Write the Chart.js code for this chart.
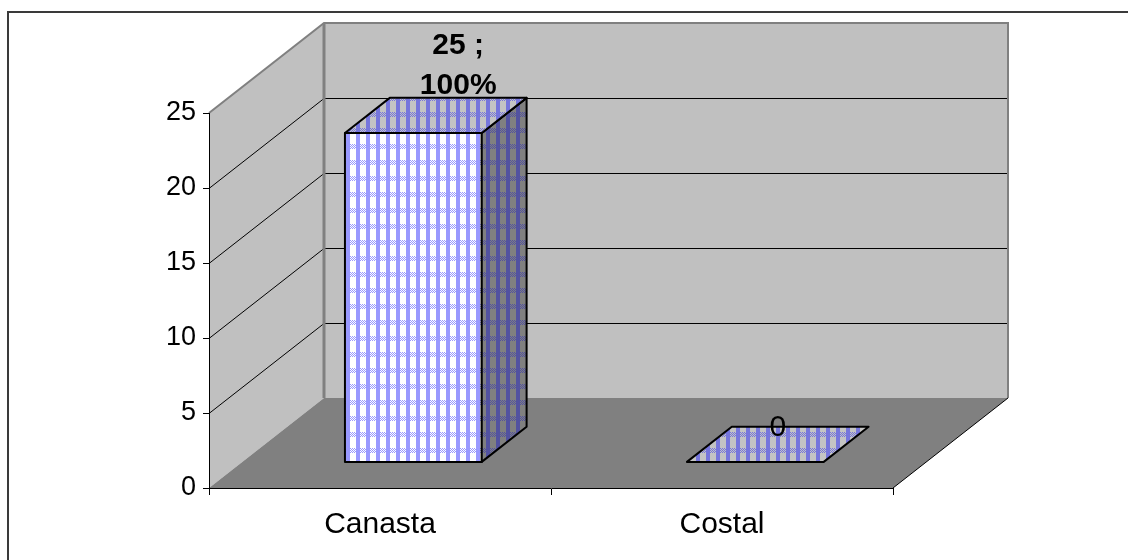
<!DOCTYPE html>
<html>
<head>
<meta charset="utf-8">
<script src="https://cdn.jsdelivr.net/npm/chart.js@4.4.1/dist/chart.umd.min.js"></script>
<style>
  html, body { margin: 0; padding: 0; background: #fff; }
  canvas { display: block; }
</style>
</head>
<body>
<canvas id="chart" width="1128" height="560"></canvas>
<script>
// Data
const categories = ['Canasta', 'Costal'];
const counts = [25, 0];
const yTicks = [0, 5, 10, 15, 20, 25];

const FONT = '"Liberation Sans", Arial, sans-serif';

// Depth of the box (how far the back wall sits behind the axes)
const DEPTH_X = 115;
const DEPTH_Y = 90;
// Where the columns start and end inside that depth
const COL_FRONT = 0.29;
const COL_BACK = 0.68;

// Small gingham tile used to fill the column faces
function ginghamTile(light, dark) {
    const w = 10, h = 16;
    const c = document.createElement('canvas');
    c.width = w;
    c.height = h;
    const g = c.getContext('2d');
    for (let y = 0; y < h; y++) {
        for (let x = 0; x < w; x++) {
            const isDark = x >= 6 || (y < 5 && (x + y) % 2 === 0);
            g.fillStyle = isDark ? dark : light;
            g.fillRect(x, y, 1, 1);
        }
    }
    return c;
}

const tiles = {
    front: ginghamTile('#ffffff', '#9999ff'),
    top: ginghamTile('#c4c4c4', '#7676dc'),
    side: ginghamTile('#808080', '#5252a0')
};

function poly(ctx, pts, fill, stroke, lw) {
    ctx.beginPath();
    ctx.moveTo(pts[0][0], pts[0][1]);
    for (let i = 1; i < pts.length; i++) ctx.lineTo(pts[i][0], pts[i][1]);
    ctx.closePath();
    if (fill) { ctx.fillStyle = fill; ctx.fill(); }
    if (stroke) { ctx.strokeStyle = stroke; ctx.lineWidth = lw || 1; ctx.stroke(); }
}

// Side wall, back wall and floor, with gridlines from the value axis
const boxPlugin = {
    id: 'box3d',
    beforeDraw(chart) {
        const ctx = chart.ctx;
        const { left, right, top, bottom } = chart.chartArea;
        const y = chart.scales.y;
        ctx.save();
        ctx.fillStyle = '#fff';
        ctx.fillRect(0, 0, chart.width, chart.height);

        // frame around the whole picture
        ctx.strokeStyle = '#3a3a3a';
        ctx.lineWidth = 2;
        ctx.beginPath();
        ctx.moveTo(8, chart.height + 5);
        ctx.lineTo(8, 12);
        ctx.lineTo(chart.width + 5, 12);
        ctx.stroke();

        const bl = left + DEPTH_X, br = right + DEPTH_X;
        const bt = top - DEPTH_Y, bb = bottom - DEPTH_Y;

        poly(ctx, [[left, top], [bl, bt], [bl, bb], [left, bottom]], '#c0c0c0');
        ctx.fillStyle = '#c0c0c0';
        ctx.fillRect(bl, bt, br - bl, bb - bt);
        poly(ctx, [[left, bottom], [bl, bb], [br, bb], [right, bottom]], '#808080');

        ctx.strokeStyle = '#000';
        ctx.lineWidth = 1;
        y.ticks.forEach(t => {
            if (t.value <= 0 || t.value >= y.max) return;
            const py = Math.round(y.getPixelForValue(t.value)) + 0.5;
            ctx.beginPath();
            ctx.moveTo(left, py);
            ctx.lineTo(bl, py - DEPTH_Y);
            ctx.lineTo(br, py - DEPTH_Y);
            ctx.stroke();
        });

        // wall edges
        ctx.strokeStyle = '#808080';
        ctx.lineWidth = 2;
        ctx.beginPath();
        ctx.moveTo(left, top);
        ctx.lineTo(bl, bt);
        ctx.lineTo(br, bt);
        ctx.lineTo(br, bb);
        ctx.stroke();
        ctx.lineWidth = 3;
        ctx.beginPath();
        ctx.moveTo(bl, bt);
        ctx.lineTo(bl, bb);
        ctx.stroke();

        ctx.strokeStyle = '#000';
        ctx.lineWidth = 1;
        ctx.beginPath();
        ctx.moveTo(right, bottom);
        ctx.lineTo(br, bb);
        ctx.stroke();
        ctx.restore();
    },

    // Columns as boxes, then their labels
    afterDatasetsDraw(chart) {
        const ctx = chart.ctx;
        const meta = chart.getDatasetMeta(0);
        const total = counts.reduce((a, b) => a + b, 0);
        const ox = DEPTH_X * (COL_BACK - COL_FRONT);
        const oy = DEPTH_Y * (COL_BACK - COL_FRONT);
        const pat = {};
        for (const k in tiles) pat[k] = ctx.createPattern(tiles[k], 'repeat');

        ctx.save();
        ctx.lineJoin = 'round';
        meta.data.forEach((el, i) => {
            const x0 = el.x - el.width / 2 + DEPTH_X * COL_FRONT;
            const x1 = el.x + el.width / 2 + DEPTH_X * COL_FRONT;
            const yt = el.y - DEPTH_Y * COL_FRONT;
            const yb = el.base - DEPTH_Y * COL_FRONT;

            if (yb - yt > 0.5) {
                poly(ctx, [[x0, yt], [x1, yt], [x1, yb], [x0, yb]], pat.front, '#000', 2);
                poly(ctx, [[x1, yt], [x1 + ox, yt - oy], [x1 + ox, yb - oy], [x1, yb]], pat.side, '#000', 2);
            }
            poly(ctx, [[x0, yt], [x0 + ox, yt - oy], [x1 + ox, yt - oy], [x1, yt]], pat.top, '#000', 2);

            const v = counts[i];
            ctx.fillStyle = '#000';
            ctx.textAlign = 'center';
            if (v > 0) {
                const pct = Math.round(v / total * 100);
                ctx.font = 'bold 30px ' + FONT;
                ctx.textBaseline = 'alphabetic';
                const cx = (x0 + x1) / 2 + ox;
                const by = yt - oy - 4;
                ctx.fillText(v + ' ;', cx, by - 40);
                ctx.fillText(pct + '%', cx, by);
            } else {
                ctx.font = '30px ' + FONT;
                ctx.textBaseline = 'middle';
                ctx.fillText(String(v), (x0 + x1) / 2 + ox / 2, yt - oy + 1);
            }
        });
        ctx.restore();
    }
};

new Chart(document.getElementById('chart'), {
    type: 'bar',
    data: {
        labels: categories,
        datasets: [{
            data: counts,
            yAxisID: 'yBar',
            backgroundColor: 'rgba(0,0,0,0)',
            borderWidth: 0,
            categoryPercentage: 1,
            barPercentage: 0.4
        }]
    },
    options: {
        responsive: false,
        animation: false,
        layout: { padding: { left: 0, right: 235, top: 113, bottom: 0 } },
        plugins: {
            legend: { display: false },
            tooltip: { enabled: false }
        },
        scales: {
            x: {
                grid: { drawOnChartArea: false, drawTicks: true, tickLength: 7, color: '#000', offset: true },
                border: { display: true, color: '#000', width: 1 },
                ticks: { font: { family: FONT, size: 30 }, color: '#000', padding: 12, maxRotation: 0 },
                afterFit: s => { s.height = 72; }
            },
            y: {
                min: 0,
                max: 25,
                grid: { drawOnChartArea: false, drawTicks: true, tickLength: 6, color: '#000' },
                border: { display: true, color: '#000', width: 1 },
                ticks: { font: { family: FONT, size: 27 }, color: '#000', padding: 7 },
                afterBuildTicks: s => { s.ticks = yTicks.map(v => ({ value: v })); },
                afterFit: s => { s.width = 209; }
            },
            // columns stand back in the box, so they run on a slightly shorter scale
            yBar: { display: false, min: 0, max: 28.5 }
        }
    },
    plugins: [boxPlugin]
});
</script>
</body>
</html>
